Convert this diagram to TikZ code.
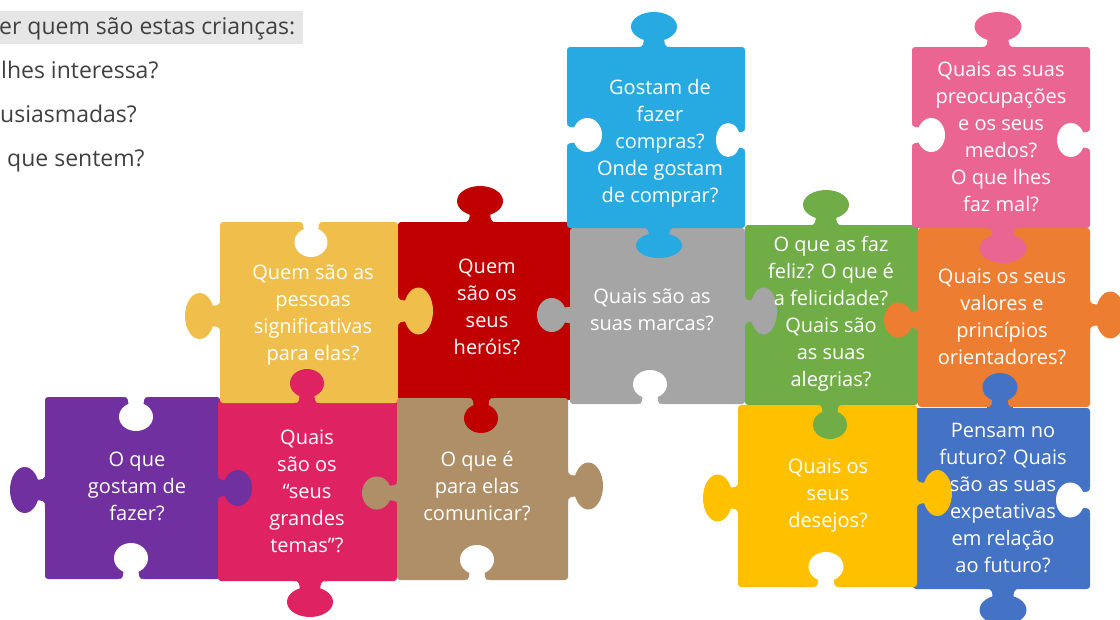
\documentclass[tikz,border=0pt]{standalone}
\usepackage{fontspec}
\setmainfont{Open Sans}
\definecolor{cPurple}{HTML}{7030A0}
\definecolor{cCrimson}{HTML}{DE2262}
\definecolor{cGold}{HTML}{F0BE4B}
\definecolor{cRed}{HTML}{C00000}
\definecolor{cTan}{HTML}{AF8F68}
\definecolor{cSky}{HTML}{27AAE1}
\definecolor{cGray}{HTML}{A5A5A5}
\definecolor{cGreen}{HTML}{70AD47}
\definecolor{cPink}{HTML}{EA6592}
\definecolor{cOrange}{HTML}{ED7D31}
\definecolor{cYellow}{HTML}{FFC000}
\definecolor{cBlue}{HTML}{4472C4}
\definecolor{cDark}{HTML}{404040}
\definecolor{cHigh}{HTML}{E7E6E6}
\tikzset{
  kup/.style={x={(1pt,0pt)},y={(0pt,1pt)}},
  kdown/.style={x={(1pt,0pt)},y={(0pt,-1pt)}},
  kleft/.style={x={(0pt,1pt)},y={(-1pt,0pt)}},
  kright/.style={x={(0pt,1pt)},y={(1pt,0pt)}},
  body/.style={rounded corners=3pt},
  txt/.style={text=white, align=center, inner sep=0pt, font=\fontsize{20}{27}\selectfont},
  side/.style={text=cDark, inner sep=0pt, anchor=base west, font=\fontsize{23}{28}\selectfont},
}
\newcommand\knob[6]{%
  \pgfmathsetmacro\kA{#5/2}%
  \pgfmathsetmacro\kB{0.42*#6}%
  \pgfmathsetmacro\kC{#6-\kB}%
  \pgfmathsetmacro\kN{0.22*#5}%
  \pgfmathsetmacro\kF{0.15*#5}%
  \pgfmathsetmacro\kAk{0.5523*\kA}%
  \pgfmathsetmacro\kBk{0.5523*\kB}%
  \pgfmathsetmacro\kT{\kC+\kB}%
  \pgfmathsetmacro\kL{\kC-\kB}%
  \pgfmathsetmacro\kCu{\kC+\kBk}%
  \pgfmathsetmacro\kCd{\kC-\kBk}%
  \pgfmathsetmacro\kNF{\kN+\kF}%
  \begin{scope}[shift={(#2pt,-#3pt)},#4]
    \fill[#1] (-\kA,\kC) .. controls (-\kA,\kCu) and (-\kAk,\kT) .. (0,\kT)
       .. controls (\kAk,\kT) and (\kA,\kCu) .. (\kA,\kC)
       .. controls (\kA,\kCd) and (\kAk,\kL) .. (0,\kL)
       .. controls (-\kAk,\kL) and (-\kA,\kCd) .. (-\kA,\kC) -- cycle;
    \fill[#1] (-\kNF,-1) -- (-\kNF,0) .. controls (-\kN,0) .. (-\kN,\kC)
       -- (\kN,\kC) .. controls (\kN,0) .. (\kNF,0) -- (\kNF,-1) -- cycle;
  \end{scope}}
\begin{document}
\begin{tikzpicture}[x=1pt,y=-1pt]
\useasboundingbox (0,0) rectangle (1120,619);
\clip (0,0) rectangle (1120,619);
% side text
\fill[cHigh] (0,11) rectangle (303,44);
\node[side] (s1) at (-1,34) {er quem são estas crianças:};
\node[side] (s2) at (1,78) {lhes interessa?};
\node[side] (s3) at (0,122) {usiasmadas?};
\node[side] (s4) at (7,166) {que sentem?};
% bodies
\fill[cPurple,body] (45,397) rectangle (220,579);
\fill[cCrimson,body] (218,400) rectangle (397,581);
\fill[cGold,body] (220,222) rectangle (398,403);
\fill[cRed,body] (398,222) rectangle (572,400);
\fill[cTan,body] (397,398) rectangle (568,580);
\fill[cGray,body] (570,228) rectangle (745,404);
\fill[cSky,body] (567,47) rectangle (745,228);
\fill[cGreen,body] (745,225) rectangle (918,405);
\fill[cOrange,body] (918,228) rectangle (1090,407);
\fill[cPink,body] (912,47) rectangle (1090,228);
\fill[cBlue,body] (913,408) rectangle (1090,589);
\fill[cYellow,body] (738,405) rectangle (917,587);
% holes
\knob{white}{136}{397}{kdown}{34}{34}
\knob{white}{131}{579}{kup}{34}{36}
\knob{white}{311}{222}{kdown}{33}{35}
\knob{white}{477}{580}{kup}{34}{35}
\knob{white}{567}{135}{kright}{34}{35}
\knob{white}{745}{140}{kleft}{34}{29}
\knob{white}{650}{404}{kup}{34}{34}
\knob{white}{912}{135}{kright}{34}{33}
\knob{white}{1090}{140}{kleft}{34}{33}
\knob{white}{826}{587}{kup}{35}{35}
\knob{white}{1090}{500}{kleft}{35}{34}
% knobs
\knob{cPurple}{45}{490}{kleft}{46}{35}
\knob{cPurple}{218}{488}{kright}{36}{34}
\knob{cCrimson}{310}{581}{kdown}{46}{36}
\knob{cCrimson}{307}{403}{kup}{34}{34}
\knob{cGold}{220}{316}{kleft}{46}{35}
\knob{cGold}{398}{311}{kright}{47}{35}
\knob{cRed}{480}{222}{kup}{46}{36}
\knob{cRed}{481}{398}{kdown}{34}{35}
\knob{cTan}{568}{486}{kright}{47}{35}
\knob{cTan}{397}{493}{kleft}{33}{35}
\knob{cSky}{654}{47}{kup}{46}{35}
\knob{cSky}{659}{228}{kdown}{46}{30}
\knob{cGray}{572}{315}{kleft}{34}{35}
\knob{cGray}{745}{311}{kright}{47}{32}
\knob{cGreen}{826}{225}{kup}{46}{35}
\knob{cGreen}{830}{405}{kdown}{34}{34}
\knob{cPink}{998}{47}{kup}{47}{35}
\knob{cPink}{1003}{228}{kdown}{47}{35}
\knob{cOrange}{918}{320}{kleft}{35}{34}
\knob{cOrange}{1090}{315}{kright}{47}{35}
\knob{cYellow}{738}{498}{kleft}{47}{35}
\knob{cYellow}{917}{493}{kright}{46}{35}
\knob{cBlue}{1000}{407}{kup}{35}{34}
\knob{cBlue}{1003}{589}{kdown}{47}{36}
% texts
\node[txt] (tPurple) at (137,486) {O que\\gostam de\\fazer?};
\node[txt] (tCrimson) at (307,491) {Quais\\são os\\“seus\\grandes\\temas”?};
\node[txt] (tGold) at (313,315) {Quem são as\\pessoas\\significativas\\para elas?};
\node[txt] (tRed) at (487,307) {Quem\\são os\\seus\\heróis?};
\node[txt] (tTan) at (477,486) {O que é\\para elas\\comunicar?};
\node[txt] (tSky) at (660,143) {Gostam de\\fazer\\compras?\\Onde gostam\\de comprar?};
\node[txt] (tGray) at (652,310) {Quais são as\\suas marcas?};
\node[txt] (tGreen) at (831,314) {O que as faz\\feliz? O que é\\a felicidade?\\Quais são\\as suas\\alegrias?};
\node[txt] (tPink) at (1001,137) {Quais as suas\\preocupações\\e os seus\\medos?\\O que lhes\\faz mal?};
\node[txt] (tOrange) at (1002,317) {Quais os seus\\valores e\\princípios\\orientadores?};
\node[txt] (tYellow) at (828,496) {Quais os\\seus\\desejos?};
\node[txt] (tBlue) at (1003,498) {Pensam no\\futuro? Quais\\são as suas\\expetativas\\em relação\\ao futuro?};
\end{tikzpicture}
\end{document}
